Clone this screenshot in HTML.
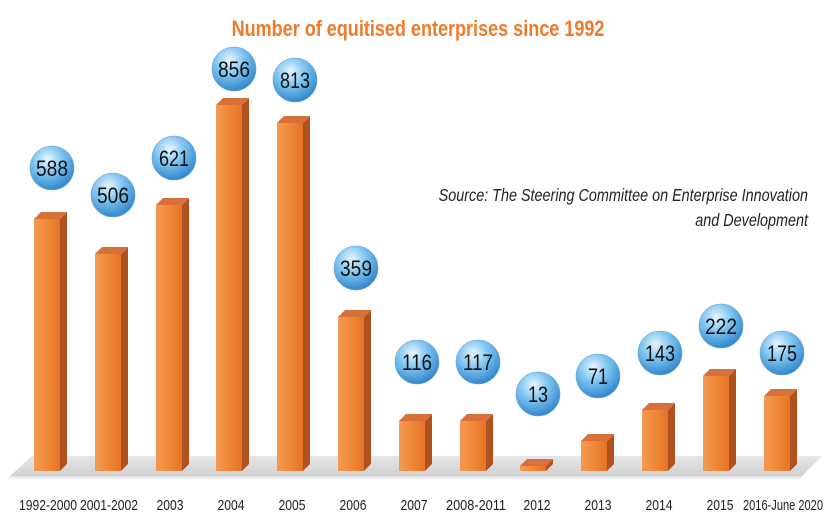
<!DOCTYPE html>
<html><head><meta charset="utf-8"><style>
html,body{margin:0;padding:0;background:#fff;}
svg{display:block;}
text{font-family:"Liberation Sans",sans-serif;}
</style></head><body>
<svg width="836" height="522" viewBox="0 0 836 522" xmlns="http://www.w3.org/2000/svg">
<defs>
<linearGradient id="fr" x1="0" x2="1" y1="0" y2="0"><stop offset="0" stop-color="#f39a55"/><stop offset="0.6" stop-color="#ef8432"/><stop offset="1" stop-color="#e3732a"/></linearGradient>
<linearGradient id="fl" x1="0" x2="0" y1="0" y2="1"><stop offset="0" stop-color="#e6e6e6"/><stop offset="1" stop-color="#cfcfcf"/></linearGradient>
<radialGradient id="bb" cx="0.4" cy="0.3" r="0.75"><stop offset="0" stop-color="#e8f6ff"/><stop offset="0.45" stop-color="#7cc3f0"/><stop offset="1" stop-color="#2a7fc8"/></radialGradient>
</defs>
<text x="418" y="36" text-anchor="middle" font-size="22" font-weight="bold" fill="#f07a2a" transform="translate(418 0) scale(0.82 1) translate(-418 0)">Number of equitised enterprises since 1992</text>
<polygon points="8,478 32,456 822,456 800,478" fill="url(#fl)"/>
<line x1="8" y1="478" x2="800" y2="478" stroke="#eef0f4" stroke-width="3"/>
<g font-size="18" font-style="italic" fill="#222" text-anchor="end">
<text x="808" y="201" transform="translate(808 0) scale(0.8 1) translate(-808 0)">Source: The Steering Committee on Enterprise Innovation</text>
<text x="808" y="226" transform="translate(808 0) scale(0.8 1) translate(-808 0)">and Development</text>
</g>
<g>
<polygon points="60,219 67,212 67,464 60,471" fill="#b0521f"/><polygon points="34,219 41,212 67,212 60,219" fill="#d8703a"/><rect x="34" y="219" width="26" height="252" fill="url(#fr)"/>
<polygon points="121,254 128,247 128,464 121,471" fill="#b0521f"/><polygon points="95,254 102,247 128,247 121,254" fill="#d8703a"/><rect x="95" y="254" width="26" height="217" fill="url(#fr)"/>
<polygon points="182,205 189,198 189,464 182,471" fill="#b0521f"/><polygon points="156,205 163,198 189,198 182,205" fill="#d8703a"/><rect x="156" y="205" width="26" height="266" fill="url(#fr)"/>
<polygon points="242,105 249,98 249,464 242,471" fill="#b0521f"/><polygon points="216,105 223,98 249,98 242,105" fill="#d8703a"/><rect x="216" y="105" width="26" height="366" fill="url(#fr)"/>
<polygon points="303,123 310,116 310,464 303,471" fill="#b0521f"/><polygon points="277,123 284,116 310,116 303,123" fill="#d8703a"/><rect x="277" y="123" width="26" height="348" fill="url(#fr)"/>
<polygon points="364,317 371,310 371,464 364,471" fill="#b0521f"/><polygon points="338,317 345,310 371,310 364,317" fill="#d8703a"/><rect x="338" y="317" width="26" height="154" fill="url(#fr)"/>
<polygon points="425,421 432,414 432,464 425,471" fill="#b0521f"/><polygon points="399,421 406,414 432,414 425,421" fill="#d8703a"/><rect x="399" y="421" width="26" height="50" fill="url(#fr)"/>
<polygon points="486,421 493,414 493,464 486,471" fill="#b0521f"/><polygon points="460,421 467,414 493,414 486,421" fill="#d8703a"/><rect x="460" y="421" width="26" height="50" fill="url(#fr)"/>
<polygon points="546,466 553,459 553,464 546,471" fill="#b0521f"/><polygon points="520,466 527,459 553,459 546,466" fill="#d8703a"/><rect x="520" y="466" width="26" height="5" fill="url(#fr)"/>
<polygon points="607,441 614,434 614,464 607,471" fill="#b0521f"/><polygon points="581,441 588,434 614,434 607,441" fill="#d8703a"/><rect x="581" y="441" width="26" height="30" fill="url(#fr)"/>
<polygon points="668,410 675,403 675,464 668,471" fill="#b0521f"/><polygon points="642,410 649,403 675,403 668,410" fill="#d8703a"/><rect x="642" y="410" width="26" height="61" fill="url(#fr)"/>
<polygon points="729,376 736,369 736,464 729,471" fill="#b0521f"/><polygon points="703,376 710,369 736,369 729,376" fill="#d8703a"/><rect x="703" y="376" width="26" height="95" fill="url(#fr)"/>
<polygon points="790,396 797,389 797,464 790,471" fill="#b0521f"/><polygon points="764,396 771,389 797,389 790,396" fill="#d8703a"/><rect x="764" y="396" width="26" height="75" fill="url(#fr)"/>
</g>
<g stroke="#6aa6d6" stroke-width="0.6" fill="url(#bb)">
<circle cx="52" cy="168" r="22"/><circle cx="113" cy="195" r="22"/><circle cx="174" cy="158" r="22"/><circle cx="234" cy="69" r="22"/><circle cx="295" cy="80" r="22"/><circle cx="356" cy="268" r="22"/><circle cx="417" cy="362" r="22"/><circle cx="478" cy="362" r="22"/><circle cx="538" cy="394" r="22"/><circle cx="598" cy="376" r="22"/><circle cx="660" cy="353" r="22"/><circle cx="721" cy="326" r="22"/><circle cx="782" cy="353" r="22"/>
</g>
<g font-size="22" fill="#111" text-anchor="middle">
<text x="52" y="176" textLength="32" lengthAdjust="spacingAndGlyphs">588</text>
<text x="113" y="203" textLength="32" lengthAdjust="spacingAndGlyphs">506</text>
<text x="174" y="166" textLength="30" lengthAdjust="spacingAndGlyphs">621</text>
<text x="234" y="77" textLength="32" lengthAdjust="spacingAndGlyphs">856</text>
<text x="295" y="88" textLength="30" lengthAdjust="spacingAndGlyphs">813</text>
<text x="356" y="276" textLength="32" lengthAdjust="spacingAndGlyphs">359</text>
<text x="417" y="370" textLength="30" lengthAdjust="spacingAndGlyphs">116</text>
<text x="478" y="370" textLength="30" lengthAdjust="spacingAndGlyphs">117</text>
<text x="538" y="402" textLength="20" lengthAdjust="spacingAndGlyphs">13</text>
<text x="598" y="384" textLength="20" lengthAdjust="spacingAndGlyphs">71</text>
<text x="660" y="361" textLength="30" lengthAdjust="spacingAndGlyphs">143</text>
<text x="721" y="334" textLength="32" lengthAdjust="spacingAndGlyphs">222</text>
<text x="782" y="361" textLength="30" lengthAdjust="spacingAndGlyphs">175</text>
</g>
<g font-size="15" fill="#222" text-anchor="middle">
<text x="48" y="510" textLength="58" lengthAdjust="spacingAndGlyphs">1992-2000</text>
<text x="109" y="510" textLength="58" lengthAdjust="spacingAndGlyphs">2001-2002</text>
<text x="170" y="510" textLength="27" lengthAdjust="spacingAndGlyphs">2003</text>
<text x="231" y="510" textLength="27" lengthAdjust="spacingAndGlyphs">2004</text>
<text x="292" y="510" textLength="27" lengthAdjust="spacingAndGlyphs">2005</text>
<text x="353" y="510" textLength="27" lengthAdjust="spacingAndGlyphs">2006</text>
<text x="414" y="510" textLength="27" lengthAdjust="spacingAndGlyphs">2007</text>
<text x="476" y="510" textLength="60" lengthAdjust="spacingAndGlyphs">2008-2011</text>
<text x="537" y="510" textLength="27" lengthAdjust="spacingAndGlyphs">2012</text>
<text x="598" y="510" textLength="27" lengthAdjust="spacingAndGlyphs">2013</text>
<text x="659" y="510" textLength="27" lengthAdjust="spacingAndGlyphs">2014</text>
<text x="720" y="510" textLength="27" lengthAdjust="spacingAndGlyphs">2015</text>
<text x="783" y="510" textLength="80" lengthAdjust="spacingAndGlyphs">2016-June 2020</text>
</g>
</svg>
</body></html>
